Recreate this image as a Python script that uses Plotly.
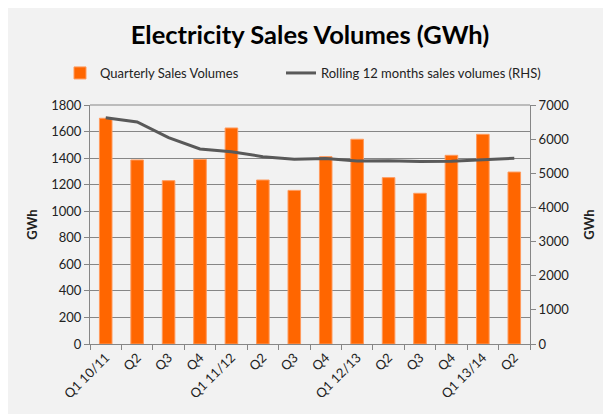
import plotly.graph_objects as go

quarters = ["Q1 10/11", "Q2", "Q3", "Q4", "Q1 11/12", "Q2", "Q3", "Q4",
            "Q1 12/13", "Q2", "Q3", "Q4", "Q1 13/14", "Q2"]
quarterly_sales = [1700, 1386, 1230, 1390, 1627, 1235, 1157, 1411,
                   1542, 1253, 1135, 1421, 1579, 1295]
rolling_12m = [6628, 6502, 6042, 5711, 5632, 5486, 5409, 5430,
               5360, 5370, 5345, 5355, 5395, 5440]

x_idx = list(range(len(quarters)))

FONT = "Lato, 'Open Sans', sans-serif"
AXC = "#868686"
W, H = 611, 414
OFF = 8  # page body margin offset

fig = go.Figure()
fig.add_trace(go.Bar(
    x=x_idx, y=quarterly_sales, name="Quarterly Sales Volumes",
    marker=dict(color="#ff6600", line=dict(color="#ff9a5c", width=1)),
    width=0.4, yaxis="y", legend="legend",
))
fig.add_trace(go.Scatter(
    x=x_idx, y=rolling_12m, name="Rolling 12 months sales volumes (RHS)",
    mode="lines", line=dict(color="#595959", width=3), yaxis="y2",
    legend="legend2",
))

leg_common = dict(orientation="h", xref="container", yref="container",
                  xanchor="left", y=1 - (73 - OFF) / H, yanchor="middle",
                  font=dict(size=13, color="#222222"),
                  bgcolor="rgba(0,0,0,0)", itemwidth=30)

fig.update_layout(
    width=W, height=H,
    paper_bgcolor="#f2f2f2", plot_bgcolor="#f2f2f2",
    margin=dict(l=90 - OFF, r=W - (90 - OFF) - 440, t=105 - OFF,
                b=H - (105 - OFF) - 239, autoexpand=False),
    font=dict(family=FONT, size=13, color="#222222"),
    title=dict(text="<b>Electricity Sales Volumes (GWh)</b>",
               x=(310 - OFF) / W, xanchor="center", xref="container",
               y=1 - (35 - OFF) / H, yanchor="middle", yref="container",
               font=dict(size=25.5, color="#000000", family=FONT)),
    showlegend=True,
    legend=dict(x=(60 - OFF) / W, **leg_common),
    legend2=dict(x=(281 - OFF) / W, **leg_common),
    xaxis=dict(
        tickmode="array", tickvals=x_idx, ticktext=quarters,
        range=[-0.5, len(quarters) - 0.5],
        tickangle=-45, showgrid=False, showline=True, linecolor=AXC,
        linewidth=1, ticks="", zeroline=False, tickfont=dict(size=13),
        minor=dict(tickmode="linear", tick0=-0.5, dtick=1, ticks="outside",
                   ticklen=5, tickcolor=AXC, showgrid=False),
    ),
    yaxis=dict(
        range=[0, 1800], dtick=200, showgrid=True, gridcolor=AXC,
        gridwidth=1, showline=True, linecolor=AXC, linewidth=1,
        ticks="outside", ticklen=5, tickcolor=AXC, zeroline=False,
        title=dict(text="<b>GWh</b>", font=dict(size=13), standoff=10),
        tickfont=dict(size=13),
    ),
    yaxis2=dict(
        range=[0, 7000], dtick=1000, overlaying="y", side="right",
        showgrid=False, showline=True, linecolor=AXC, linewidth=1,
        ticks="outside", ticklen=5, tickcolor=AXC, zeroline=False,
        title=dict(text="<b>GWh</b>", font=dict(size=13), standoff=16),
        tickfont=dict(size=13),
    ),
)
fig.add_shape(type="line", xref="paper", yref="paper", x0=0, x1=1, y0=1, y1=1,
              line=dict(color=AXC, width=1))

fig.write_html("out.html")
